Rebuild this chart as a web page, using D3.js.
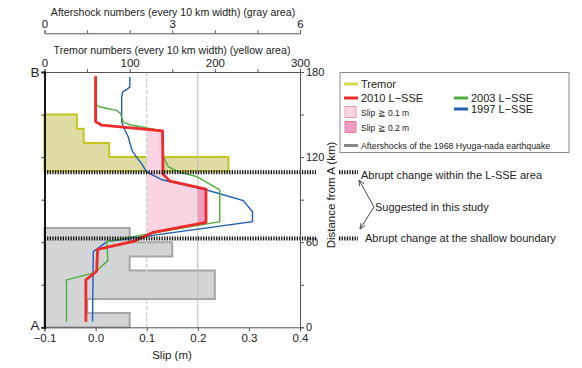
<!DOCTYPE html>
<html><head><meta charset="utf-8">
<script src="https://cdn.jsdelivr.net/npm/d3@7"></script>
<style>
body{margin:0;background:#fff;}
svg{display:block;font-family:"Liberation Sans",Arial,sans-serif;}
</style></head>
<body><svg id="c" width="582" height="368"></svg>
<script>
// ---- data ----
const tremorBinsKm = [110, 120, 130, 140];          // lower edge of 10-km bins
const tremorCounts = [216, 76, 46, 38];
const aftershockBinsKm = [0, 10, 20, 30, 40, 50, 60];
const aftershockCounts = [2, 1, 4, 4, 2, 3, 2];
// slip profiles: [slip (m), distance from A (km)]
const slip2010 = [[0.0,177],[0.0,145],[0.012,142.5],[0.131,138.5],[0.132,108],[0.146,103],[0.216,97.5],[0.216,74],[0.113,67],[0.074,60.5],[0.004,55],[0.002,39.5],[-0.019,33.5],[-0.019,4]];
const slip2003 = [[0.003,156.5],[0.009,155.3],[0.041,153],[0.049,150.6],[0.054,144.7],[0.067,142.8],[0.1,140.5],[0.131,138.5],[0.133,120],[0.136,117.9],[0.142,113.2],[0.165,109.3],[0.198,106.2],[0.243,96.8],[0.243,74.5],[0.098,65.5],[0.022,60.4],[0.024,47],[-0.002,38.5],[-0.057,33.4],[-0.057,4]];
const slip1997 = [[0.067,176.5],[0.067,169.4],[0.061,167.8],[0.053,165.9],[0.051,162.4],[0.051,144.8],[0.056,140],[0.064,134.2],[0.071,124.8],[0.08,120],[0.09,115.4],[0.1,109.5],[0.13,104],[0.2174,96.8],[0.289,89.3],[0.307,81.5],[0.307,74.5],[0.022,60.4],[-0.0045,53.3],[-0.006,4]];
const slipTicks = [-0.1, 0.0, 0.1, 0.2, 0.3, 0.4];
const distTicks = [0, 30, 60, 90, 120, 150, 180];
const distLabels = [0, 60, 120, 180];
const tremorTicks = [0, 50, 100, 150, 200, 250, 300];
const tremorLabels = [0, 100, 200, 300];
const aftTicks = [0, 1, 2, 3, 4, 5, 6];
const aftLabels = [0, 3, 6];
const abruptKm = [109.3, 62.6];
const slipThresholds = [0.1, 0.2];

// ---- scales ----
const L = 44.5, R = 300, T = 72, B = 327.3;
const x = d3.scaleLinear([-0.1, 0.4], [L, R]);
const y = d3.scaleLinear([0, 180], [B, T]);
const xt = d3.scaleLinear([0, 300], [L, R]);
const xa = d3.scaleLinear([0, 6], [L, R]);

const svg = d3.select("#c");
const defs = svg.append("defs");

// ---- histograms ----
function histPts(bins, vals, sx) {
  const idx = d3.range(bins.length).sort((a, b) => bins[b] - bins[a]);
  const top = bins[idx[0]] + 10, bot = bins[idx[idx.length - 1]];
  const pts = [[sx(0), y(top)]];
  idx.forEach(i => { pts.push([sx(vals[i]), y(bins[i] + 10)]); pts.push([sx(vals[i]), y(bins[i])]); });
  pts.push([sx(0), y(bot)]);
  return pts;
}
svg.append("path").attr("d", d3.line()(histPts(aftershockBinsKm, aftershockCounts, xa)) + "Z")
  .attr("fill", "#d3d4d6").attr("stroke", "#a6a6a8").attr("stroke-width", 2);
svg.append("path").attr("d", d3.line()(histPts(tremorBinsKm, tremorCounts, xt)) + "Z")
  .attr("fill", "#dedca4").attr("stroke", "#c6c41c").attr("stroke-width", 2);

// ---- pink slip areas (2010) ----
const pinkCols = ["#f9d5e4", "#f29cc2"];
slipThresholds.forEach((th, i) => {
  defs.append("clipPath").attr("id", "cl" + i).append("rect")
    .attr("x", x(th)).attr("y", 0).attr("width", 400).attr("height", 400);
  svg.append("path")
    .attr("d", d3.area().x0(x(th)).x1(d => x(d[0])).y(d => y(d[1]))(slip2010))
    .attr("fill", pinkCols[i]).attr("clip-path", `url(#cl${i})`);
});

// ---- reference vertical lines ----
svg.append("line").attr("x1", x(0.1)).attr("x2", x(0.1)).attr("y1", T).attr("y2", B)
  .attr("stroke", "#d0d0d0").attr("stroke-width", 1.3).attr("stroke-dasharray", "4 2");
svg.append("line").attr("x1", x(0.2)).attr("x2", x(0.2)).attr("y1", T).attr("y2", B)
  .attr("stroke", "#bdbdbd").attr("stroke-width", 1);

// ---- slip lines ----
const line = d3.line().x(d => x(d[0])).y(d => y(d[1]));
svg.append("path").attr("d", line(slip1997)).attr("fill", "none").attr("stroke", "#1f5fb4").attr("stroke-width", 1.4);
svg.append("path").attr("d", line(slip2003)).attr("fill", "none").attr("stroke", "#4fae3c").attr("stroke-width", 1.4);
svg.append("path").attr("d", line(slip2010)).attr("fill", "none").attr("stroke", "#ee2a2a").attr("stroke-width", 2.8).attr("stroke-linejoin", "round");

// ---- abrupt change dotted lines ----
abruptKm.forEach(k => {
  [[L, 316], [339, 358]].forEach(s => {
    svg.append("line").attr("x1", s[0]).attr("x2", s[1]).attr("y1", y(k)).attr("y2", y(k))
      .attr("stroke", "#111").attr("stroke-width", 4).attr("stroke-dasharray", "1.3 1.3");
  });
});

// ---- axes ----
function style(g, size) {
  g.selectAll("text").attr("font-size", size).attr("fill", "#222").attr("font-family", '"Liberation Sans",Arial,sans-serif');
  g.selectAll("line").attr("stroke", "#555");
  g.select(".domain").attr("stroke", "#555");
}
const gB = svg.append("g").attr("transform", `translate(0,${B})`)
  .call(d3.axisBottom(x).tickValues(slipTicks).tickSize(4).tickPadding(3).tickFormat(d => d < 0 ? "\u2212" + Math.abs(d).toFixed(1) : d.toFixed(1)));
style(gB, 11.5);
const gR = svg.append("g").attr("transform", `translate(${R},0)`)
  .call(d3.axisRight(y).tickValues(distTicks).tickSize(4).tickPadding(2).tickFormat(d => distLabels.includes(d) ? d : ""));
style(gR, 11);
const gT = svg.append("g").attr("transform", `translate(0,${T})`)
  .call(d3.axisTop(xt).tickValues(tremorTicks).tickSize(3).tickPadding(2).tickFormat(d => tremorLabels.includes(d) ? d : ""));
style(gT, 11.5);
const gA = svg.append("g").attr("transform", `translate(0,33.3)`)
  .call(d3.axisTop(xa).tickValues(aftTicks).tickSize(3).tickPadding(2).tickFormat(d => aftLabels.includes(d) ? d : ""));
style(gA, 11.5);
const gL = svg.append("g").attr("transform", `translate(${L},0)`)
  .call(d3.axisLeft(y).tickValues(distTicks).tickSize(3).tickFormat(""));
gL.selectAll("line").attr("stroke", "#333");
gL.select(".domain").attr("stroke", "#000").attr("stroke-width", 1.8);

// ---- axis titles ----
const tx = (X, Y, s, sz, anchor) => svg.append("text").attr("x", X).attr("y", Y).text(s)
  .attr("font-size", sz).attr("fill", "#222").attr("text-anchor", anchor || "start");
tx(173, 16, "Aftershock numbers (every 10 km width) (gray area)", 10.6, "middle");
tx(172, 54, "Tremor numbers (every 10 km width) (yellow area)", 10.6, "middle");
tx(172, 359, "Slip (m)", 11.5, "middle");
svg.append("text").attr("transform", "translate(335,195) rotate(-90)").attr("text-anchor", "middle")
  .attr("font-size", 11.5).attr("fill", "#222").text("Distance from A (km)");
tx(35, 76.5, "B", 13.5, "middle");
tx(35, 330, "A", 13.5, "middle");

// ---- legend ----
svg.append("rect").attr("x", 340).attr("y", 72.5).attr("width", 229).attr("height", 80)
  .attr("fill", "#fff").attr("stroke", "#8a8a8a").attr("stroke-width", 1);
const legLine = (x1, yy, col, w) => svg.append("line").attr("x1", x1).attr("x2", x1 + 14).attr("y1", yy).attr("y2", yy).attr("stroke", col).attr("stroke-width", w || 3);
legLine(344, 84, "#d4d84a"); tx(361, 88, "Tremor", 11);
legLine(344, 98, "#ee2a2a"); tx(361, 102, "2010 L\u2212SSE", 11);
legLine(454, 98, "#4fae3c"); tx(471, 102, "2003 L\u2212SSE", 11);
legLine(454, 109, "#1f5fb4"); tx(471, 113, "1997 L\u2212SSE", 11);
svg.append("rect").attr("x", 345).attr("y", 106.5).attr("width", 11).attr("height", 11).attr("fill", pinkCols[0]).attr("stroke", "#f08a9a").attr("stroke-width", 0.8);
svg.append("rect").attr("x", 345).attr("y", 121.5).attr("width", 11).attr("height", 11).attr("fill", pinkCols[1]).attr("stroke", "#ee6b8a").attr("stroke-width", 0.8);
tx(361, 116, "Slip \u2267 0.1 m", 8.5);
tx(361, 131, "Slip \u2267 0.2 m", 8.5);
legLine(344, 145.5, "#888");
tx(361, 148.5, "Aftershocks of the 1968 Hyuga-nada earthquake", 8.8);

// ---- annotations ----
tx(361, 179, "Abrupt change within the L-SSE area", 11);
tx(365, 242, "Abrupt change at the shallow boundary", 11);
tx(375, 211, "Suggested in this study", 11);
defs.append("marker").attr("id", "ah").attr("viewBox", "0 0 10 10").attr("refX", 9).attr("refY", 5)
  .attr("markerWidth", 7).attr("markerHeight", 7).attr("orient", "auto")
  .append("path").attr("d", "M0,1L9,5L0,9").attr("fill", "none").attr("stroke", "#333").attr("stroke-width", 1.2);
[[359, 180], [360, 229]].forEach(p => {
  svg.append("line").attr("x1", 374).attr("x2", p[0]).attr("y1", 207).attr("y2", p[1])
    .attr("stroke", "#333").attr("stroke-width", 0.9).attr("marker-end", "url(#ah)");
});
</script></body></html>
